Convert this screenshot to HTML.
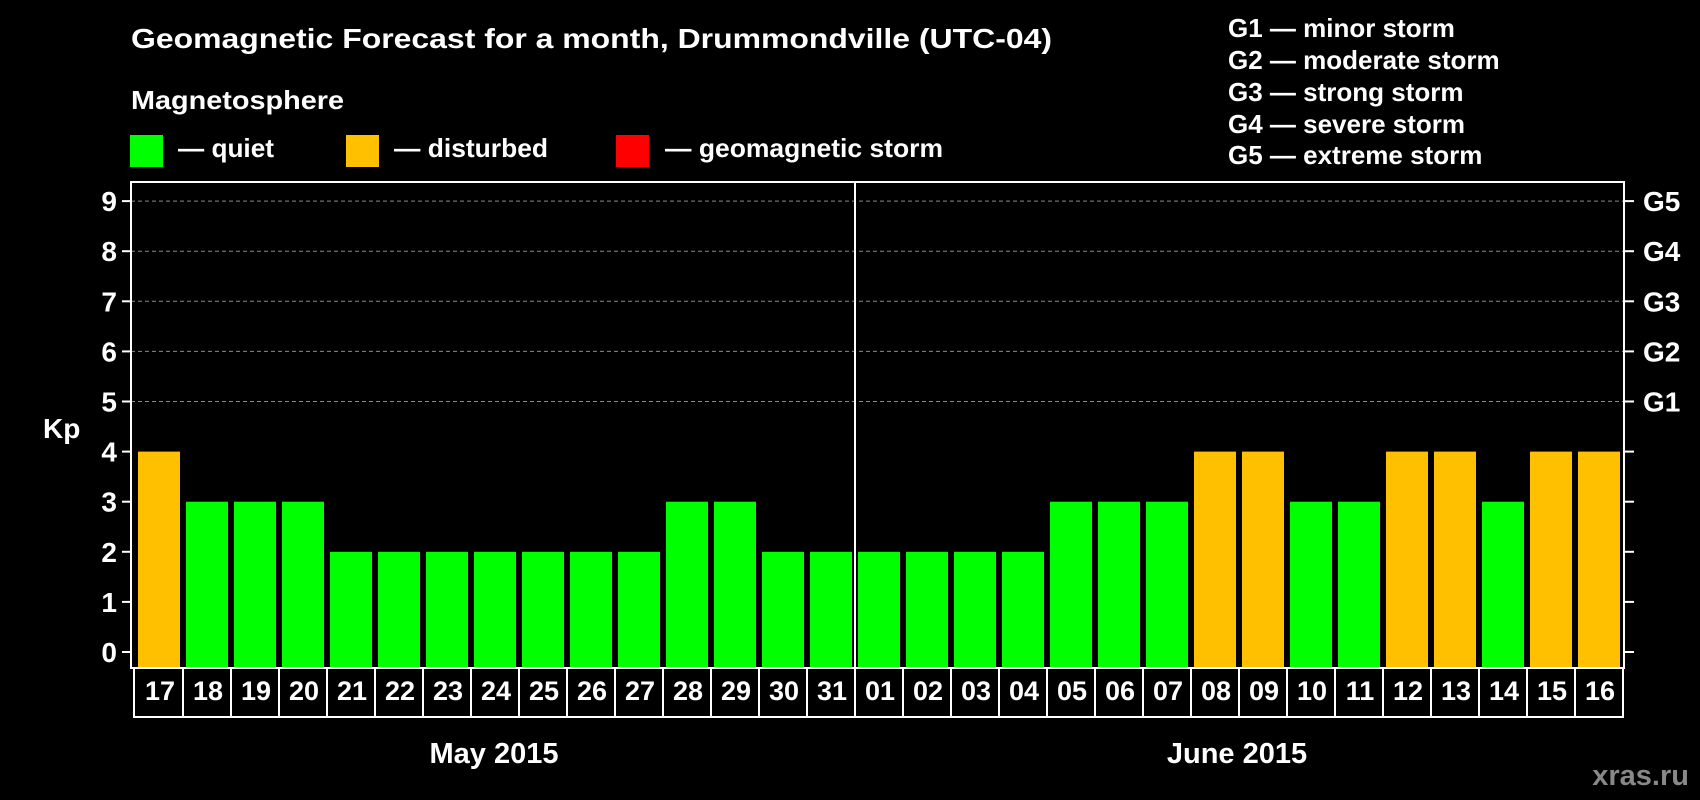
<!DOCTYPE html>
<html><head><meta charset="utf-8"><style>
html,body{margin:0;padding:0;background:#000;}
svg{display:block;font-family:"Liberation Sans",sans-serif;font-weight:bold;}
</style></head><body>
<svg id="chart" width="1700" height="800" viewBox="0 0 1700 800">
<rect x="0" y="0" width="1700" height="800" fill="#000"/>
<text x="131" y="48" font-size="28" fill="#fff" textLength="921" lengthAdjust="spacingAndGlyphs">Geomagnetic Forecast for a month, Drummondville (UTC-04)</text>
<text x="131" y="109" font-size="26" fill="#fff" textLength="213" lengthAdjust="spacingAndGlyphs">Magnetosphere</text>
<rect x="130" y="135" width="33" height="32" fill="#00ff00"/>
<text x="178" y="157" font-size="26" fill="#fff" textLength="96" lengthAdjust="spacingAndGlyphs">— quiet</text>
<rect x="346" y="135" width="33" height="32" fill="#ffc000"/>
<text x="394" y="157" font-size="26" fill="#fff" textLength="154" lengthAdjust="spacingAndGlyphs">— disturbed</text>
<rect x="616" y="135" width="33" height="32" fill="#ff0000"/>
<text x="665" y="157" font-size="26" fill="#fff" textLength="278" lengthAdjust="spacingAndGlyphs">— geomagnetic storm</text>
<g font-size="26" fill="#fff">
<text x="1228" y="37">G1 — minor storm</text>
<text x="1228" y="69">G2 — moderate storm</text>
<text x="1228" y="101">G3 — strong storm</text>
<text x="1228" y="133">G4 — severe storm</text>
<text x="1228" y="164">G5 — extreme storm</text>
</g>
<g id="grid"></g>
<g id="bars"></g>
<g id="axes"></g>
<text x="43" y="438" font-size="28" fill="#fff">Kp</text>
<text x="494" y="763" font-size="29" fill="#fff" text-anchor="middle">May 2015</text>
<text x="1237" y="763" font-size="29" fill="#fff" text-anchor="middle">June 2015</text>
<text x="1689" y="785" font-size="29" fill="#888" text-anchor="end">xras.ru</text>
</svg>
<script>
const days = ["17","18","19","20","21","22","23","24","25","26","27","28","29","30","31","01","02","03","04","05","06","07","08","09","10","11","12","13","14","15","16"];
const kpValues = [4,3,3,3,2,2,2,2,2,2,2,3,3,2,2,2,2,2,2,3,3,3,4,4,3,3,4,4,3,4,4];
const yTicks = [0,1,2,3,4,5,6,7,8,9];
const gLabels = ["G1","G2","G3","G4","G5"];
const gLevels = [5,6,7,8,9];
const monthBreakIndex = 15;

const NS = "http://www.w3.org/2000/svg";
const plotL = 131, plotR = 1624, plotT = 182, plotB = 668;
const x0 = 135, step = 48;
function yScale(v){ return 652 - v * 50.1; }
function xScale(i){ return x0 + i * step; }
function mk(tag, attrs, parent){
  const el = document.createElementNS(NS, tag);
  for (const k in attrs) el.setAttribute(k, attrs[k]);
  parent.appendChild(el);
  return el;
}
const grid = document.getElementById('grid');
const bars = document.getElementById('bars');
const axes = document.getElementById('axes');

gLevels.forEach(function(v){
  const ln = mk('line', {x1: plotL, x2: plotR, y1: yScale(v), y2: yScale(v), stroke: '#8a8a8a', 'stroke-width': 1, 'stroke-dasharray': '4,3'}, grid);
  
  
});

kpValues.forEach(function(v, i){
  const r = mk('rect', {x: xScale(i) + 3, y: yScale(v), width: 42, height: plotB - yScale(v), fill: v >= 5 ? '#ff0000' : (v >= 4 ? '#ffc000' : '#00ff00')}, bars);
  
  
});

const frame = mk('rect', {x: plotL, y: plotT, width: plotR - plotL, height: plotB - plotT, fill: 'none', stroke: '#fff', 'stroke-width': 2}, axes);



yTicks.forEach(function(v){
  const y = yScale(v);
  const t1 = mk('line', {x1: 122, x2: plotL, y1: y, y2: y, stroke: '#fff', 'stroke-width': 2}, axes);
  
  
  const t2 = mk('line', {x1: plotR, x2: plotR + 10, y1: y, y2: y, stroke: '#fff', 'stroke-width': 2}, axes);
  
  
  const lb = mk('text', {x: 117, y: y + 10, 'font-size': 28, fill: '#fff', 'text-anchor': 'end'}, axes);
  lb.textContent = String(v);
  
  
});

gLabels.forEach(function(g, i){
  const lb = mk('text', {x: 1643, y: yScale(gLevels[i]) + 10, 'font-size': 28, fill: '#fff'}, axes);
  lb.textContent = g;
  
  
});

const boxT = 668, boxB = 717;
const xEnd = xScale(days.length);
const boxFrame = mk('path', {d: 'M134,' + boxT + ' V' + boxB + ' H' + xEnd + ' V' + boxT, fill: 'none', stroke: '#fff', 'stroke-width': 2}, axes);


days.forEach(function(d, i){
  if (i > 0) {
    const dv = mk('line', {x1: xScale(i), x2: xScale(i), y1: boxT, y2: boxB, stroke: '#fff', 'stroke-width': 2}, axes);
    
    
  }
  const lb = mk('text', {x: xScale(i) + step / 2 + 1, y: 700, 'font-size': 27, fill: '#fff', 'text-anchor': 'middle'}, axes);
  lb.textContent = d;
  
  
});

const sep = mk('line', {x1: xScale(monthBreakIndex), x2: xScale(monthBreakIndex), y1: plotT, y2: boxB, stroke: '#fff', 'stroke-width': 2}, axes);


</script>
</body></html>
